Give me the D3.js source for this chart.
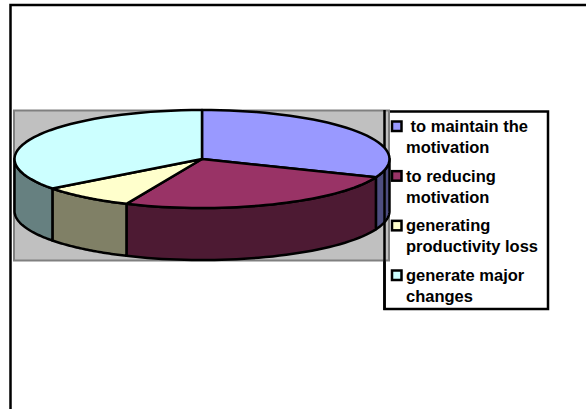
<!DOCTYPE html>
<html>
<head>
<meta charset="utf-8">
<script src="https://cdn.jsdelivr.net/npm/d3@7"></script>
<style>
  html, body { margin: 0; padding: 0; background: #fff; }
  svg { display: block; }
  .legend-text { font-family: "Liberation Sans", Arial, sans-serif; font-size: 16.5px; font-weight: bold; fill: #000; }
</style>
</head>
<body>
<div id="chart"></div>
<script>
const categories = [' to maintain the motivation', 'to reducing motivation', 'generating productivity loss', 'generate major changes']
const shares = [31.1, 25.5, 8.1, 35.3]
const topColors = ['#9999ff', '#993366', '#ffffcc', '#ccffff']
const sideColors = ['#4d4d80', '#4d1a33', '#808066', '#668080']
const legendLines = [[' to maintain the', 'motivation'], ['to reducing', 'motivation'], ['generating', 'productivity loss'], ['generate major', 'changes']]

const width = 586
const height = 409
const cx = 202
const cy = 159
const rx = 187.5
const ry = 49
const depth = 52

const svg = d3.select('#chart').append('svg').attr('width', width).attr('height', height)

// outer frame, only the top and left edges show in the crop
svg.append('path')
  .attr('d', 'M10.5,409V5H586')
  .attr('fill', 'none').attr('stroke', '#000').attr('stroke-width', 2.5)

// legend box sits under the plot area
const legend = svg.append('g')
legend.append('rect')
  .attr('x', 384.5).attr('y', 111.5).attr('width', 163.5).attr('height', 197.5)
  .attr('fill', '#fff').attr('stroke', '#000').attr('stroke-width', 2.5)

svg.append('rect')
  .attr('x', 14).attr('y', 110.5).attr('width', 375).attr('height', 150)
  .attr('fill', '#c0c0c0').attr('stroke', '#808080').attr('stroke-width', 2)

const slices = d3.pie().sort(null)(shares)

const px = a => cx + rx * Math.sin(a)
const py = a => cy - ry * Math.cos(a)

// sample the visible rim between two angles
function rimPoints (a0, a1) {
  return d3.range(0, 41).map(i => {
    const a = a0 + (a1 - a0) * i / 40
    return [px(a), py(a)]
  })
}

const line = d3.line()

// walls first, only the front half (90deg to 270deg) can be seen
const front = slices
  .map((d, i) => ({ a0: Math.max(d.startAngle, Math.PI / 2), a1: Math.min(d.endAngle, 3 * Math.PI / 2), i }))
  .filter(d => d.a1 > d.a0)

svg.append('g').selectAll('path')
  .data(front)
  .join('path')
  .attr('d', d => {
    const top = rimPoints(d.a0, d.a1)
    const bottom = top.map(p => [p[0], p[1] + depth]).reverse()
    return line(top.concat(bottom)) + 'Z'
  })
  .attr('fill', d => sideColors[d.i])
  .attr('stroke', '#000').attr('stroke-width', 2.5).attr('stroke-linejoin', 'round')

// legend's left edge shows over the grey and the wall, but not the top face
svg.append('line')
  .attr('x1', 384.5).attr('x2', 384.5).attr('y1', 110).attr('y2', 310)
  .attr('stroke', '#000').attr('stroke-width', 2.5)

svg.append('g').selectAll('path')
  .data(slices)
  .join('path')
  .attr('d', d => line([[cx, cy]].concat(rimPoints(d.startAngle, d.endAngle))) + 'Z')
  .attr('fill', (d, i) => topColors[i])
  .attr('stroke', '#000').attr('stroke-width', 2.5).attr('stroke-linejoin', 'round')

const legendY = d3.scalePoint().domain(d3.range(categories.length)).range([126, 275])

const items = legend.selectAll('g.item')
  .data(categories)
  .join('g')
  .attr('class', 'item')
  .attr('transform', (d, i) => `translate(0, ${legendY(i)})`)

items.each(function (d, i) {
  const text = d3.select(this).append('text').attr('class', 'legend-text').attr('xml:space', 'preserve')
  legendLines[i].forEach((t, j) => {
    text.append('tspan').attr('x', 406).attr('y', 6 + j * 21).text(t)
  })
})

// swatches go on top, the pie rim does not reach them
svg.append('g').selectAll('rect')
  .data(categories)
  .join('rect')
  .attr('x', 392).attr('y', (d, i) => legendY(i) - 4.5).attr('width', 9.5).attr('height', 9.5)
  .attr('fill', (d, i) => topColors[i])
  .attr('stroke', '#000').attr('stroke-width', 2.5)
</script>
</body>
</html>
